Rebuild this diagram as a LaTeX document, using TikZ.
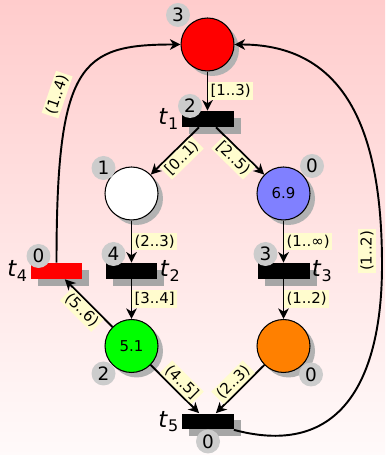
\documentclass[tikz,border=0pt]{standalone}
\usepackage{fontspec}
\setmainfont{DejaVu Sans}
\usetikzlibrary{arrows.meta, shadows}
\definecolor{lblfill}{RGB}{255,252,206}

\begin{document}
\begin{tikzpicture}[x=0.02cm, y=0.02cm,
  place/.style={circle, draw, line width=0.6pt, minimum size=1.06cm, inner sep=0pt,
    font=\fontsize{8.5}{10}\selectfont,
    drop shadow={shadow xshift=0.1cm, shadow yshift=-0.1cm, fill=black!30, opacity=1}},
  trans/.style={rectangle, fill=black, minimum width=1.04cm, minimum height=0.32cm, inner sep=0pt,
    drop shadow={shadow xshift=0.14cm, shadow yshift=-0.14cm, fill=black!35, opacity=1}},
  token/.style={circle, fill=black!20, minimum size=0.48cm, inner sep=0pt, font=\fontsize{10.5}{12}\selectfont},
  tname/.style={inner sep=1pt, font=\fontsize{13}{15}\selectfont},
  lbl/.style={fill=lblfill, inner sep=1.2pt, font=\fontsize{8.5}{10}\selectfont},
  arc/.style={-{Stealth[length=6pt, width=6pt, inset=1.8pt]}, line width=1.1pt}]
  \shade[top color=red!20, bottom color=red!2] (0,0) rectangle (385,455);
  \useasboundingbox (0,0) rectangle (385,455);

  % places
  \node[place, fill=red] (p0) at (207.5,410.5) {};
  \node[place, fill=white] (p1) at (131.5,261.5) {};
  \node[place, fill=blue!50] (p2) at (283.5,261.5) {6.9};
  \node[place, fill=green] (p3) at (131.5,109) {5.1};
  \node[place, fill=orange] (p4) at (283.5,109) {};

  % transitions
  \node[trans] (t1) at (207.5,336) {};
  \node[trans] (t2) at (131.5,184) {};
  \node[trans] (t3) at (283.5,184) {};
  \node[trans, fill=red] (t4) at (56.5,184) {};
  \node[trans] (t5) at (207.5,33.5) {};
  \node[tname, anchor=east] (t1n) at (t1.west) {\textit{t}\textsubscript{1}};
  \node[tname, anchor=west] (t2n) at (t2.east) {\textit{t}\textsubscript{2}};
  \node[tname, anchor=west] (t3n) at (t3.east) {\textit{t}\textsubscript{3}};
  \node[tname, anchor=east] (t4n) at (t4.west) {\textit{t}\textsubscript{4}};
  \node[tname, anchor=east] (t5n) at (t5.west) {\textit{t}\textsubscript{5}};

  % tokens
  \node[token] (k0) at (178,440) {3};
  \node[token] (k1) at (103.5,287) {1};
  \node[token] (k2) at (312,289) {0};
  \node[token] (k3) at (103.5,81.5) {2};
  \node[token] (k4) at (311,80.5) {0};
  \node[token] (kt1) at (190,349) {2};
  \node[token] (kt2) at (113.5,201) {4};
  \node[token] (kt3) at (265.5,201) {3};
  \node[token] (kt4) at (38.5,199) {0};
  \node[token] (kt5) at (208,13.5) {0};

  % arcs
  \draw[arc] (p0) -- node[lbl, right] {[1..3)} (t1);
  \draw[arc] (t1) -- node[lbl, sloped, below] {[0..1)} (p1);
  \draw[arc] (t1) -- node[lbl, sloped, below] {[2..5)} (p2);
  \draw[arc] (p1) -- node[lbl, right] {(2..3)} (t2);
  \draw[arc] (p2) -- node[lbl, right] {(1..∞)} (t3);
  \draw[arc] (t2) -- node[lbl, right] {[3..4]} (p3);
  \draw[arc] (t3) -- node[lbl, right] {(1..2)} (p4);
  \draw[arc] (p3) -- node[lbl, sloped, below] {(5..6)} (t4);
  \draw[arc] (p3) -- node[lbl, sloped, above] {(4..5]} (t5);
  \draw[arc] (p4) -- node[lbl, sloped, above] {(2..3)} (t5);
  \draw[arc] (t4.north) .. controls +(0,200) and +(-100,0) .. node[lbl, pos=0.4, sloped, above=3pt] {(1..4)} (p0.west);
  \draw[arc] (t5.south east) to[out=-15, in=-90, looseness=1.3] (382,190)
    to[out=90, in=0, looseness=1.15] node[lbl, rotate=90, anchor=south, yshift=3pt, pos=0.04] {(1..2)} (p0.east);
\end{tikzpicture}
\end{document}
